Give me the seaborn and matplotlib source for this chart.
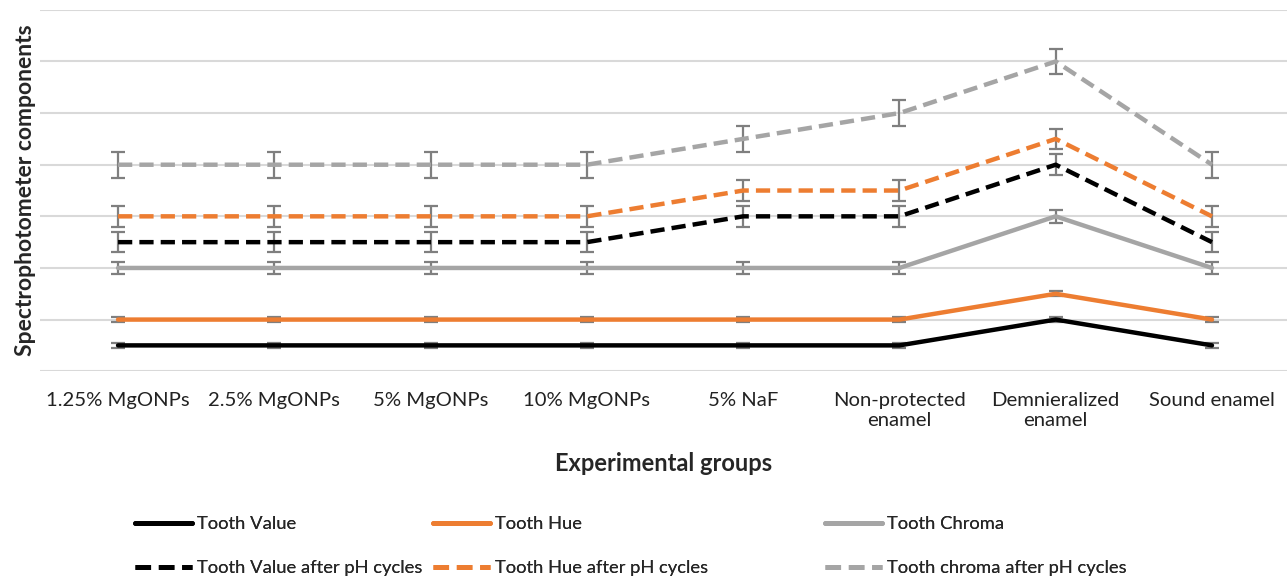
import matplotlib
matplotlib.use("Agg")
import matplotlib.pyplot as plt
import seaborn as sns
import pandas as pd
import numpy as np

groups = ["1.25% MgONPs", "2.5% MgONPs", "5% MgONPs", "10% MgONPs", "5% NaF",
          "Non-protected\nenamel", "Demnieralized\nenamel", "Sound enamel"]

tooth_value = [0.5, 0.5, 0.5, 0.5, 0.5, 0.5, 1.0, 0.5]
tooth_hue = [1.0, 1.0, 1.0, 1.0, 1.0, 1.0, 1.5, 1.0]
tooth_chroma = [2.0, 2.0, 2.0, 2.0, 2.0, 2.0, 3.0, 2.0]
value_after = [2.5, 2.5, 2.5, 2.5, 3.0, 3.0, 4.0, 2.5]
hue_after = [3.0, 3.0, 3.0, 3.0, 3.5, 3.5, 4.5, 3.0]
chroma_after = [4.0, 4.0, 4.0, 4.0, 4.5, 5.0, 6.0, 4.0]

err_value = [0.05] * 8
err_hue = [0.05] * 8
err_chroma = [0.12] * 8
err_value_after = [0.2] * 8
err_hue_after = [0.2] * 8
err_chroma_after = [0.25] * 8

series_names = ["Tooth Value", "Tooth Value after pH cycles",
                "Tooth Hue", "Tooth Hue after pH cycles",
                "Tooth Chroma", "Tooth chroma after pH cycles"]
series_values = [tooth_value, value_after, tooth_hue, hue_after, tooth_chroma, chroma_after]
series_errors = [err_value, err_value_after, err_hue, err_hue_after, err_chroma, err_chroma_after]

BLACK, ORANGE, GRAY = "#000000", "#ED7D31", "#A5A5A5"
palette = {series_names[0]: BLACK, series_names[1]: BLACK,
           series_names[2]: ORANGE, series_names[3]: ORANGE,
           series_names[4]: GRAY, series_names[5]: GRAY}
dash = (3.2, 1.6)
dashes = {series_names[0]: "", series_names[1]: dash,
          series_names[2]: "", series_names[3]: dash,
          series_names[4]: "", series_names[5]: dash}

rows = []
for name, vals, errs in zip(series_names, series_values, series_errors):
    for i, (v, e) in enumerate(zip(vals, errs)):
        rows.append({"pos": i, "value": v, "err": e, "series": name})
df = pd.DataFrame(rows)

sns.set_theme(style="white")
plt.rcParams["font.family"] = ["Lato", "DejaVu Sans"]

fig = plt.figure(figsize=(12.87, 5.8), dpi=100)
ax = fig.add_axes([0.031, 0.36, 0.969, 0.623])

# error bars underneath the lines
for name in series_names:
    sub = df[df["series"] == name]
    ax.errorbar(sub["pos"], sub["value"], yerr=sub["err"], fmt="none",
                ecolor="#7F7F7F", elinewidth=1.6, capsize=5, capthick=1.6, zorder=2)

sns.lineplot(data=df, x="pos", y="value", hue="series", style="series",
             palette=palette, dashes=dashes, hue_order=series_names,
             style_order=series_names, linewidth=3.2, sort=False,
             estimator=None, ax=ax, zorder=3, legend=True)

ax.set_xlim(-0.5, 7.48)
ax.set_ylim(0, 7)
ax.set_yticks(np.arange(0, 8, 1))
ax.set_yticklabels([])
ax.tick_params(axis="y", length=0)
ax.grid(axis="y", color="#D9D9D9", linewidth=1.5)
ax.grid(axis="x", visible=False)
for s in ax.spines.values():
    s.set_visible(False)

ax.set_xticks(range(len(groups)))
ax.set_xticklabels(groups, fontsize=14.6, color="#222222", va="top", linespacing=1.2)
ax.tick_params(axis="x", length=0, pad=15)

ax.set_xlabel("Experimental groups", fontsize=17, fontweight="bold", labelpad=17)
ax.set_ylabel("Spectrophotometer components", fontsize=16.5, fontweight="bold", labelpad=-1)

handles, labels = ax.get_legend_handles_labels()
ax.get_legend().remove()
for h in handles:
    h.set_linewidth(3.5)

# one legend per column, each pair stacked (plain line above its pH-cycle dashed line)
col_left = [135, 433, 825]
for c, x0 in enumerate(col_left):
    leg = fig.legend(handles[2 * c:2 * c + 2], labels[2 * c:2 * c + 2], loc="upper left",
                     bbox_to_anchor=(x0 / 1287, 1 - 516 / 580), borderpad=0,
                     borderaxespad=0, frameon=False, fontsize=13.2, handlelength=3.1,
                     handletextpad=0.3, labelspacing=1.55)
    fig.add_artist(leg)

fig.savefig("out.png", dpi=100)
